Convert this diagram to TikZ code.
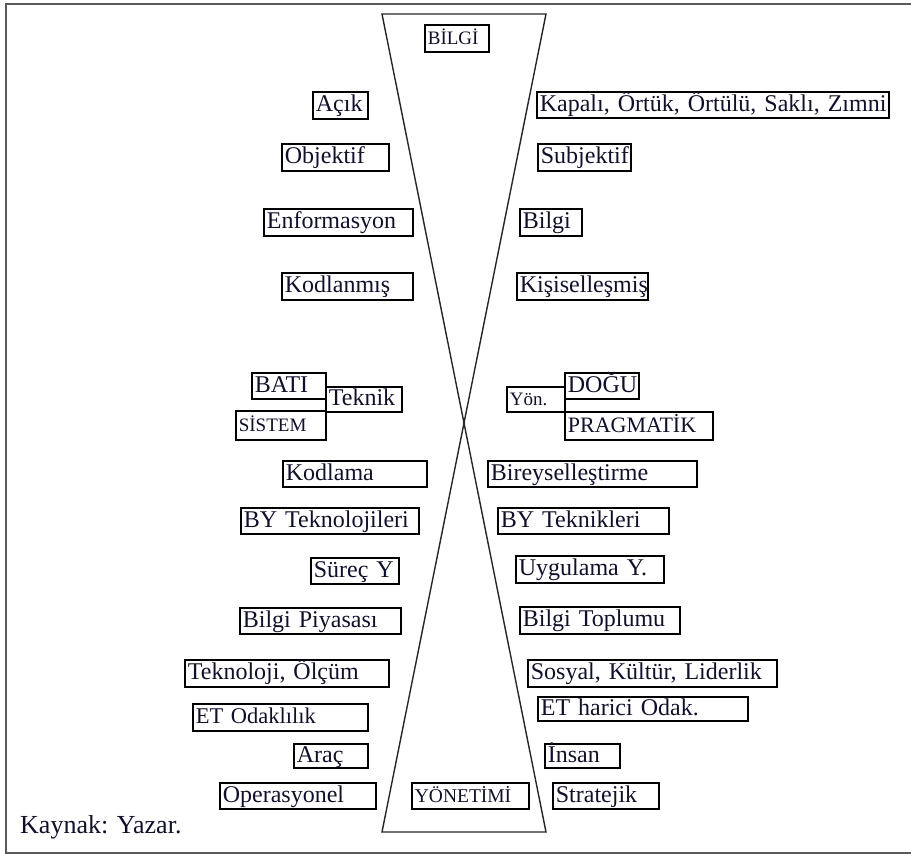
\documentclass[tikz,border=0pt]{standalone}
\usepackage{fontspec}
\setmainfont{Liberation Serif}
\definecolor{ink}{HTML}{10102A}
\definecolor{framegray}{HTML}{5A5A5A}
\tikzset{
  bx/.style={draw=black, line width=1.7pt, rectangle, inner xsep=3pt, inner ysep=0pt,
    text=ink, align=left, anchor=north west, text height=18pt, text depth=5pt},
  glass/.style={draw=black!85, line width=1.4pt},
}
% \bx{name}{x1}{y1}{x2}{y2}{font size}{text}
\newcommand\bx[7]{%
  \pgfmathsetmacro\bxw{#4-#2-6}\pgfmathsetmacro\bxh{#5-#3}%
  \node[bx, text width=\bxw pt, minimum height=\bxh pt,
        font=\fontsize{#6}{#6}\selectfont] (#1) at (#2,#3) {\mbox{#7}};}
\begin{document}
\begin{tikzpicture}[x=1pt, y=-1pt]
\useasboundingbox (0,0) rectangle (911,854);
% outer frame
\draw[framegray, line width=2.5pt] (911,4) -- (6,4) -- (6,853) -- (911,853);
% hourglass
\coordinate (tl) at (382,14);
\coordinate (tr) at (546,14);
\coordinate (bl) at (382,832);
\coordinate (br) at (546,832);
\draw[glass] (tl) -- (tr) -- (bl) -- (br) -- cycle;
\bx{bilgi}{424}{24}{488}{51}{19}{BİLGİ}
\bx{yonetimi}{411}{782}{528}{808}{19.5}{YÖNETİMİ}
% left column
\bx{acik}{312}{91}{367}{118}{24}{Açık}
\bx{objektif}{281}{143}{388}{170}{24}{Objektif}
\bx{enformasyon}{263}{208}{412}{235}{24}{Enformasyon}
\bx{kodlanmis}{281}{272}{412}{299}{24}{Kodlanmış}
\bx{bati}{251}{372}{325}{398}{24}{BATI}
\bx{teknik}{325}{386}{401}{411}{24}{Teknik}
\bx{sistem}{235}{410}{325}{439}{19}{SİSTEM}
\bx{kodlama}{282}{460}{426}{486}{24}{Kodlama}
\bx{bytek}{240}{507}{418}{533}{24}{BY Teknolojileri}
\bx{surec}{310}{557}{398}{583}{24}{Süreç Y}
\bx{piyasa}{239}{607}{400}{633}{24}{Bilgi Piyasası}
\bx{olcum}{184}{659}{388}{686}{24}{Teknoloji, Ölçüm}
\bx{etodak}{192}{703}{367}{730}{22.5}{ET Odaklılık}
\bx{arac}{293}{743}{367}{767}{24}{Araç}
\bx{operasyonel}{219}{782}{375}{808}{24}{Operasyonel}
% right column
\bx{kapali}{536}{91}{888}{117}{24}{Kapalı, Örtük, Örtülü, Saklı, Zımni}
\bx{subjektif}{537}{143}{630}{170}{24}{Subjektif}
\bx{bilgiR}{519}{208}{581}{235}{24}{Bilgi}
\bx{kisisel}{516}{272}{647}{299}{24}{Kişiselleşmiş}
\bx{yon}{506}{386}{564}{411}{19}{Yön.}
\bx{dogu}{564}{372}{638}{398}{24}{DOĞU}
\bx{pragmatik}{564}{411}{712}{439}{22}{PRAGMATİK}
\bx{bireysel}{487}{460}{696}{486}{24}{Bireyselleştirme}
\bx{byteknik}{497}{507}{668}{533}{24}{BY Teknikleri}
\bx{uygulama}{515}{555}{663}{582}{24}{Uygulama Y.}
\bx{toplum}{519}{606}{679}{633}{24}{Bilgi Toplumu}
\bx{sosyal}{527}{659}{776}{686}{24}{Sosyal, Kültür, Liderlik}
\bx{etharici}{537}{696}{747}{720}{24}{ET harici Odak.}
\bx{insan}{544}{743}{619}{767}{24}{İnsan}
\bx{stratejik}{552}{782}{658}{808}{24}{Stratejik}
% source line
\node[anchor=base west, inner sep=0pt, text=ink, font=\fontsize{26}{26}\selectfont] (kaynak) at (20,833) {Kaynak: Yazar.};
\end{tikzpicture}
\end{document}
